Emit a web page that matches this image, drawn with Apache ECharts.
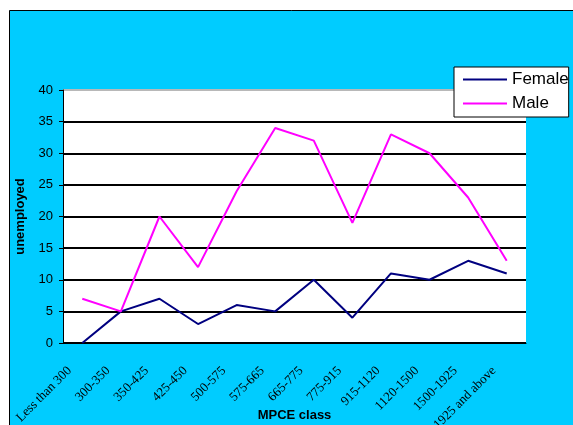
<!DOCTYPE html>
<html style="height: 100%">
<head>
<meta charset="utf-8">
<script src="https://cdn.jsdelivr.net/npm/echarts@6/dist/echarts.min.js"></script>
</head>
<body style="height: 100%; margin: 0; background: #fff">
<div id="chart" style="width: 573px; height: 425px"></div>
<script>
// MPCE classes on the x axis
var categories = ['Less than 300', '300-350', '350-425', '425-450', '500-575', '575-665',
    '665-775', '775-915', '915-1120', '1120-1500', '1500-1925', '1925 and above'];
// unemployed counts
var female = [0, 5, 7, 3, 6, 5, 10, 4, 11, 10, 13, 11];
var male = [7, 5, 20, 12, 24, 34, 32, 19, 33, 30, 23, 13];

var chart = echarts.init(document.getElementById('chart'));

chart.setOption({
    animation: false,
    graphic: [{
        type: 'rect',
        z: -10,
        shape: { x: 9.5, y: 10.5, width: 600, height: 430 },
        style: { fill: '#00ccff', stroke: '#000', lineWidth: 1 }
    }],
    legend: {
        orient: 'vertical',
        left: 454,
        top: 67,
        padding: [4, 0, 5, 8],
        itemWidth: 44,
        itemHeight: 14,
        itemGap: 7,
        backgroundColor: '#fff',
        borderColor: '#000',
        borderWidth: 1,
        itemStyle: { opacity: 0 },
        textStyle: { fontFamily: 'Liberation Sans', fontSize: 17, color: '#000', width: 80, overflow: 'none' },
        data: ['Female', 'Male']
    },
    grid: {
        left: 63, top: 90, width: 463, height: 253,
        outerBoundsMode: 'none', containLabel: false,
        show: true, backgroundColor: '#fff', borderWidth: 0
    },
    xAxis: {
        type: 'category',
        data: categories,
        boundaryGap: true,
        name: 'MPCE class',
        nameLocation: 'middle',
        nameGap: 66,
        nameMoveOverlap: false,
        nameTextStyle: { fontFamily: 'Liberation Sans', fontWeight: 'bold', fontSize: 13, color: '#000' },
        axisLine: { lineStyle: { color: '#000', width: 1 } },
        axisTick: { inside: false, length: 5, lineStyle: { color: '#000' } },
        axisLabel: {
            rotate: 45, interval: 0, margin: 13,
            fontFamily: 'Liberation Serif', fontSize: 13, color: '#000',
            padding: [0, 18, 0, 0]
        }
    },
    yAxis: {
        type: 'value',
        min: 0, max: 40, interval: 5,
        name: 'unemployed',
        nameLocation: 'middle',
        nameGap: 36,
        nameMoveOverlap: false,
        nameTextStyle: { fontFamily: 'Liberation Sans', fontWeight: 'bold', fontSize: 13, color: '#000' },
        axisLine: { show: true, lineStyle: { color: '#000', width: 1 } },
        axisTick: { show: true, inside: false, length: 4, lineStyle: { color: '#000' } },
        axisLabel: { margin: 10, fontFamily: 'Liberation Sans', fontSize: 13, color: '#000' },
        splitLine: {
            lineStyle: {
                width: 2,
                color: ['#000', '#000', '#000', '#000', '#000', '#000', '#000', '#000', '#b8b8b8']
            }
        }
    },
    series: [
        {
            name: 'Female', type: 'line', data: female, symbol: 'none',
            color: '#000080', lineStyle: { width: 2, color: '#000080' }
        },
        {
            name: 'Male', type: 'line', data: male, symbol: 'none',
            color: '#ff00ff', lineStyle: { width: 2, color: '#ff00ff' }
        }
    ]
});
</script>
</body>
</html>
